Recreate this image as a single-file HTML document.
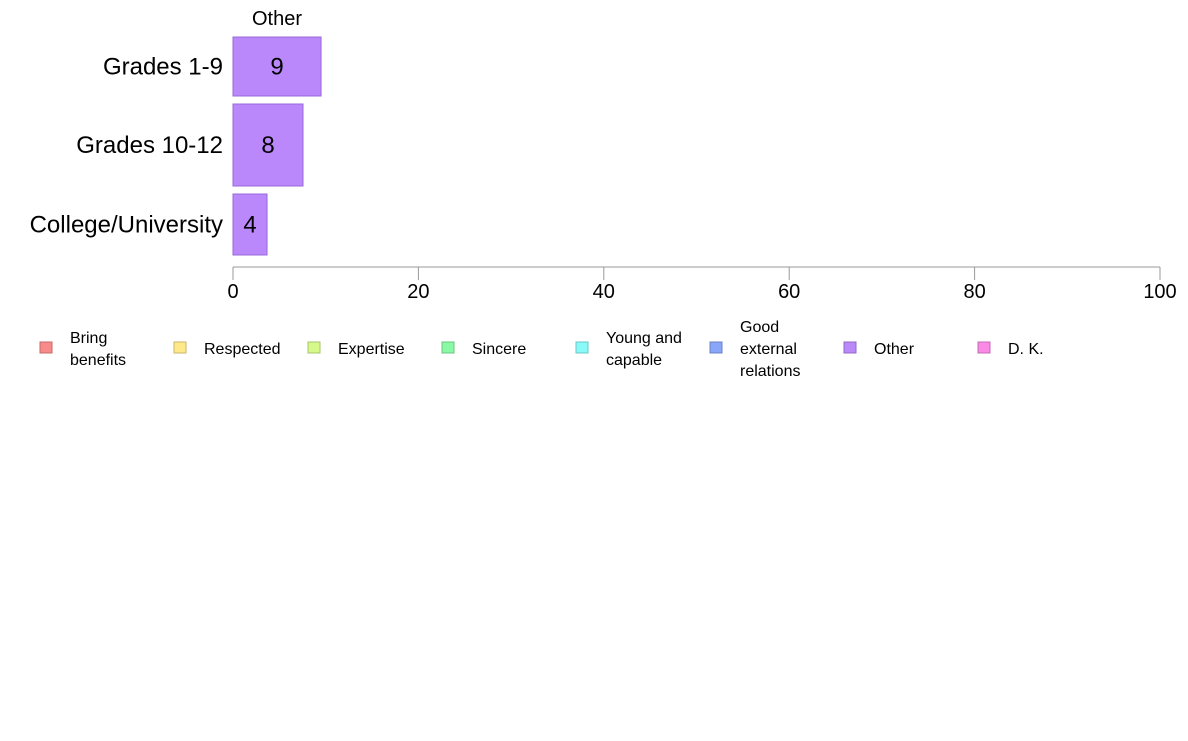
<!DOCTYPE html>
<html><head><meta charset="utf-8"><style>
body{margin:0;background:#fff;font-family:"Liberation Sans",sans-serif;}
</style></head><body>
<svg id="chart" width="1188" height="736" xmlns="http://www.w3.org/2000/svg" font-family="Liberation Sans, sans-serif"></svg>
<script>
const categories=["Grades 1-9","Grades 10-12","College/University"];
const values=[9.5,7.55,3.67];
const valueLabels=["9","8","4"];
const rowTops=[37,104,194];
const rowHeights=[59,82,61];
const ticks=[0,20,40,60,80,100];
const legendLabels=[["Bring","benefits"],["Respected"],["Expertise"],["Sincere"],["Young and","capable"],["Good","external","relations"],["Other"],["D. K."]];
const legendColors=["#f88a8a","#fde98a","#d6f98a","#8af9a6","#8afaf8","#8aa6f8","#bb8afa","#f98ae6"];
const legendStroke=["#c56b6b","#c7b66b","#a7c56b","#6bc580","#6bc5c5","#6b80c5","#9368c5","#c56bb5"];
const svg=document.getElementById('chart');
const NS="http://www.w3.org/2000/svg";
const x0=233,x1=1160;
const xs=v=>x0+(x1-x0)*v/100;
function mk(t,a,txt){const e=document.createElementNS(NS,t);for(const k in a)e.setAttribute(k,a[k]);if(txt!==undefined)e.textContent=txt;svg.appendChild(e);return e;}
const st=mk('text',{x:277,y:25,'font-size':20,'text-anchor':'middle',fill:'#000'},'Other');


categories.forEach((c,i)=>{
  const y=rowTops[i],h=rowHeights[i];
  const r=mk('rect',{x:xs(0),y:y,width:xs(values[i])-xs(0),height:h,fill:'#bb88fc',stroke:'#9a68d8','stroke-width':1});
  
  
  const vl=mk('text',{x:(xs(0)+xs(values[i]))/2,y:y+h/2+8,'font-size':24,'text-anchor':'middle',fill:'#000'},valueLabels[i]);
  
  
  const cl=mk('text',{x:223,y:y+h/2+8,'font-size':24,'text-anchor':'end',fill:'#000'},c);
  
  
});
const ax=mk('line',{x1:x0,y1:267,x2:x1,y2:267,stroke:'#999','stroke-width':1});


ticks.forEach(t=>{
  const tl=mk('line',{x1:xs(t),y1:267,x2:xs(t),y2:280,stroke:'#999','stroke-width':1});
  
  
  const tx=mk('text',{x:xs(t),y:298,'font-size':20,'text-anchor':'middle',fill:'#000'},String(t));
  
  
});
legendLabels.forEach((lines,i)=>{
  const lx=40+134*i;
  const sw=mk('rect',{x:lx,y:342,width:12,height:11,fill:legendColors[i],stroke:legendStroke[i],'stroke-width':1});
  
  
  const n=lines.length;
  lines.forEach((ln,j)=>{
    const y=354-(n-1)*11+j*22;
    const t=mk('text',{x:lx+30,y:y,'font-size':16,fill:'#000'},ln);
    
    
  });
});
</script>
</body></html>
